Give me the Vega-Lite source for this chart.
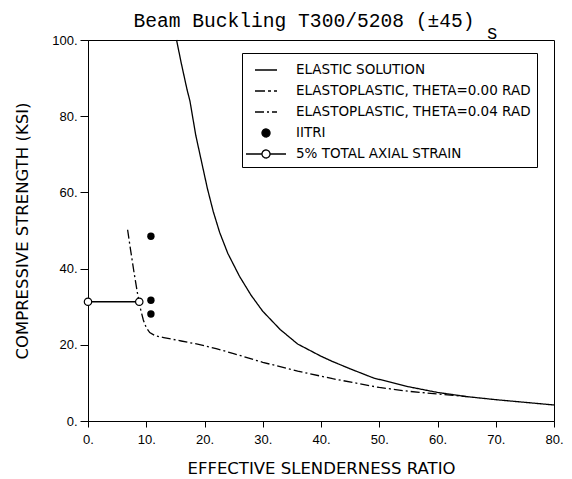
{
  "$schema": "https://vega.github.io/schema/vega-lite/v6.json",
  "width": 466,
  "height": 381,
  "autosize": {"type": "none"},
  "padding": {"left": 88, "top": 40, "right": 18, "bottom": 58},
  "background": "white",
  "config": {
    "view": {"stroke": "black", "strokeWidth": 1},
    "font": "Liberation Sans"
  },
  "title": {
    "text": "Beam Buckling T300/5208 (±45)",
    "anchor": "middle",
    "frame": "group",
    "dx": -17,
    "baseline": "alphabetic",
    "font": "Liberation Mono",
    "fontSize": 19.6,
    "fontWeight": "normal",
    "color": "black",
    "offset": -25
  },
  "resolve": {"axis": {"x": "independent"}},
  "datasets": {
    "curves": [
      {"series": "ELASTIC SOLUTION", "ratio": 15.2, "strength": 100},
      {"series": "ELASTIC SOLUTION", "ratio": 16, "strength": 94},
      {"series": "ELASTIC SOLUTION", "ratio": 17, "strength": 87},
      {"series": "ELASTIC SOLUTION", "ratio": 17.5, "strength": 84},
      {"series": "ELASTIC SOLUTION", "ratio": 18.5, "strength": 75},
      {"series": "ELASTIC SOLUTION", "ratio": 19.5, "strength": 68},
      {"series": "ELASTIC SOLUTION", "ratio": 20.5, "strength": 61},
      {"series": "ELASTIC SOLUTION", "ratio": 21.5, "strength": 55},
      {"series": "ELASTIC SOLUTION", "ratio": 22.6, "strength": 49.5},
      {"series": "ELASTIC SOLUTION", "ratio": 24, "strength": 44},
      {"series": "ELASTIC SOLUTION", "ratio": 26, "strength": 38},
      {"series": "ELASTIC SOLUTION", "ratio": 28, "strength": 33},
      {"series": "ELASTIC SOLUTION", "ratio": 30, "strength": 28.8},
      {"series": "ELASTIC SOLUTION", "ratio": 33, "strength": 24},
      {"series": "ELASTIC SOLUTION", "ratio": 36, "strength": 20.2},
      {"series": "ELASTIC SOLUTION", "ratio": 40, "strength": 17},
      {"series": "ELASTIC SOLUTION", "ratio": 42, "strength": 15.6},
      {"series": "ELASTIC SOLUTION", "ratio": 45, "strength": 13.7},
      {"series": "ELASTIC SOLUTION", "ratio": 49, "strength": 11.3},
      {"series": "ELASTIC SOLUTION", "ratio": 55, "strength": 9},
      {"series": "ELASTIC SOLUTION", "ratio": 60, "strength": 7.5},
      {"series": "ELASTIC SOLUTION", "ratio": 65, "strength": 6.4},
      {"series": "ELASTIC SOLUTION", "ratio": 70, "strength": 5.6},
      {"series": "ELASTIC SOLUTION", "ratio": 75, "strength": 4.9},
      {"series": "ELASTIC SOLUTION", "ratio": 80, "strength": 4.2},
      {"series": "ELASTOPLASTIC, THETA=0.04 RAD", "ratio": 6.8, "strength": 50.2},
      {"series": "ELASTOPLASTIC, THETA=0.04 RAD", "ratio": 7.3, "strength": 45},
      {"series": "ELASTOPLASTIC, THETA=0.04 RAD", "ratio": 7.9, "strength": 39},
      {"series": "ELASTOPLASTIC, THETA=0.04 RAD", "ratio": 8.5, "strength": 33.5},
      {"series": "ELASTOPLASTIC, THETA=0.04 RAD", "ratio": 9.0, "strength": 29.5},
      {"series": "ELASTOPLASTIC, THETA=0.04 RAD", "ratio": 9.5, "strength": 26.5},
      {"series": "ELASTOPLASTIC, THETA=0.04 RAD", "ratio": 10.0, "strength": 24.5},
      {"series": "ELASTOPLASTIC, THETA=0.04 RAD", "ratio": 10.6, "strength": 23.2},
      {"series": "ELASTOPLASTIC, THETA=0.04 RAD", "ratio": 11.5, "strength": 22.4},
      {"series": "ELASTOPLASTIC, THETA=0.04 RAD", "ratio": 13, "strength": 21.9},
      {"series": "ELASTOPLASTIC, THETA=0.04 RAD", "ratio": 16, "strength": 21.0},
      {"series": "ELASTOPLASTIC, THETA=0.04 RAD", "ratio": 19, "strength": 20.1},
      {"series": "ELASTOPLASTIC, THETA=0.04 RAD", "ratio": 22, "strength": 19.0},
      {"series": "ELASTOPLASTIC, THETA=0.04 RAD", "ratio": 25, "strength": 17.7},
      {"series": "ELASTOPLASTIC, THETA=0.04 RAD", "ratio": 30, "strength": 15.4},
      {"series": "ELASTOPLASTIC, THETA=0.04 RAD", "ratio": 36, "strength": 13.1},
      {"series": "ELASTOPLASTIC, THETA=0.04 RAD", "ratio": 42, "strength": 11.1},
      {"series": "ELASTOPLASTIC, THETA=0.04 RAD", "ratio": 50, "strength": 8.8},
      {"series": "ELASTOPLASTIC, THETA=0.04 RAD", "ratio": 55, "strength": 7.8},
      {"series": "ELASTOPLASTIC, THETA=0.04 RAD", "ratio": 60, "strength": 7.1},
      {"series": "ELASTOPLASTIC, THETA=0.04 RAD", "ratio": 65, "strength": 6.4},
      {"series": "5% TOTAL AXIAL STRAIN", "ratio": 0, "strength": 31.3},
      {"series": "5% TOTAL AXIAL STRAIN", "ratio": 8.8, "strength": 31.3}
    ],
    "iitri": [
      {"ratio": 10.8, "strength": 48.5},
      {"ratio": 10.8, "strength": 31.7},
      {"ratio": 10.8, "strength": 28.1}
    ],
    "strain": [
      {"ratio": 0, "strength": 31.3},
      {"ratio": 8.8, "strength": 31.3}
    ]
  },
  "encoding": {
    "x": {
      "field": "ratio",
      "type": "quantitative",
      "scale": {"domain": [0, 80], "nice": false, "zero": false},
      "axis": {
        "title": "EFFECTIVE SLENDERNESS RATIO",
        "values": [0, 10, 20, 30, 40, 50, 60, 70, 80],
        "labelExpr": "datum.label + '.'",
        "format": "d",
        "grid": false,
        "domainColor": "black",
        "tickColor": "black",
        "tickSize": 6,
        "labelFontSize": 13,
        "labelColor": "black",
        "labelPadding": 6,
        "labelFlush": false,
        "titleFont": "DejaVu Sans",
        "titleFontSize": 16.5,
        "titleFontWeight": "normal",
        "titleColor": "black",
        "titlePadding": 14
      }
    },
    "y": {
      "field": "strength",
      "type": "quantitative",
      "scale": {"domain": [0, 100], "nice": false},
      "axis": {
        "title": "COMPRESSIVE STRENGTH (KSI)",
        "values": [0, 20, 40, 60, 80, 100],
        "labelExpr": "datum.label + '.'",
        "format": "d",
        "grid": false,
        "domainColor": "black",
        "tickColor": "black",
        "tickSize": 8,
        "labelFontSize": 13,
        "labelColor": "black",
        "labelPadding": 3,
        "labelFlush": false,
        "titleFont": "DejaVu Sans",
        "titleFontSize": 16.5,
        "titleFontWeight": "normal",
        "titleColor": "black",
        "titlePadding": 21
      }
    }
  },
  "layer": [
    {
      "data": {"name": "curves"},
      "mark": {"type": "line", "color": "black", "strokeWidth": 1.3},
      "encoding": {
        "strokeDash": {
          "field": "series",
          "type": "nominal",
          "scale": {
            "domain": ["ELASTIC SOLUTION", "ELASTOPLASTIC, THETA=0.00 RAD", "ELASTOPLASTIC, THETA=0.04 RAD", "IITRI", "5% TOTAL AXIAL STRAIN"],
            "range": [[1, 0], [10, 3, 3, 3, 3, 3], [9, 3, 2, 3], [1, 0], [1, 0]]
          },
          "legend": {
            "title": null,
            "orient": "none",
            "legendX": 154,
            "legendY": 13,
            "padding": 6,
            "strokeColor": "black",
            "fillColor": "white",
            "symbolSize": 400,
            "symbolOffset": 7,
            "symbolStrokeColor": "black",
            "symbolStrokeWidth": 1.3,
            "labelOffset": 19,
            "labelFont": "DejaVu Sans",
            "labelFontSize": 13.5,
            "labelColor": "black",
            "labelLimit": 400,
            "rowPadding": 3,
            "encode": {
              "symbols": {
                "update": {
                  "shape": {"signal": "datum.value === 'IITRI' ? 'M-0.4,0A0.4,0.4 0 1,1 0.4,0A0.4,0.4 0 1,1 -0.4,0Z' : datum.value === '5% TOTAL AXIAL STRAIN' ? 'M-2,0L-0.4,0M0.4,0L2,0M-0.4,0A0.4,0.4 0 1,1 0.4,0A0.4,0.4 0 1,1 -0.4,0Z' : 'M-1.1,0L1.1,0'"},
                  "fill": {"signal": "datum.value === 'IITRI' ? 'black' : 'transparent'"},
                  "stroke": {"value": "black"}
                }
              }
            }
          }
        }
      }
    },
    {
      "data": {"name": "iitri"},
      "mark": {"type": "point", "filled": true, "color": "black", "size": 55, "opacity": 1},
      "encoding": {
        "x": {
          "field": "ratio",
          "type": "quantitative",
          "axis": {
            "orient": "top",
            "title": null,
            "values": [69.3],
            "labelExpr": "'s'",
            "ticks": false,
            "domain": false,
            "grid": false,
            "labelFont": "Liberation Mono",
            "labelFontSize": 19.6,
            "labelColor": "black",
            "labelPadding": -2,
            "labelFlush": false,
            "labelOverlap": false
          }
        }
      }
    },
    {
      "data": {"name": "strain"},
      "mark": {"type": "point", "filled": false, "fill": "white", "stroke": "black", "strokeWidth": 1.2, "size": 55, "opacity": 1},
      "encoding": {
        "x": {"field": "ratio", "type": "quantitative", "axis": null}
      }
    }
  ]
}
